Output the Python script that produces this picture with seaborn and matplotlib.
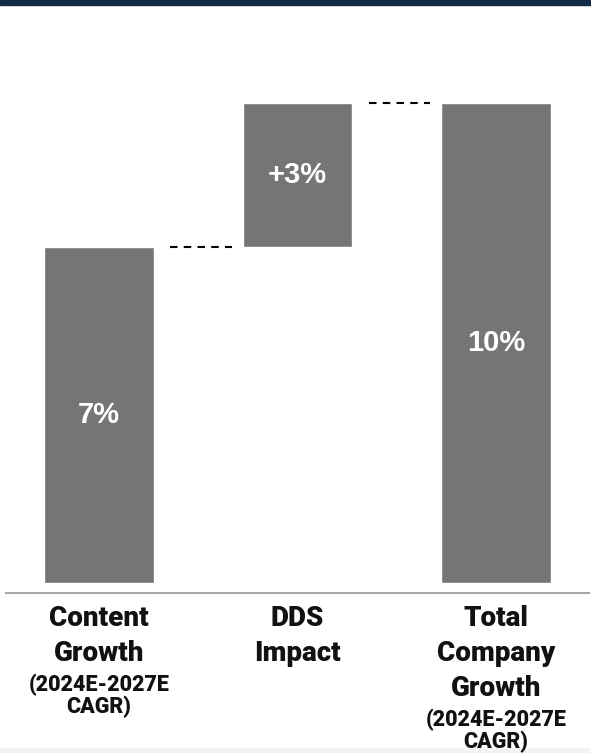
import pandas as pd
import matplotlib.pyplot as plt
import seaborn as sns
from matplotlib.patches import Rectangle


categories = ['Content Growth', 'DDS Impact', 'Total Company Growth']
bases = [0, 7, 0]
heights = [7, 3, 10]
value_labels = ['7%', '+3%', '10%']
main_lines = [['Content', 'Growth'], ['DDS', 'Impact'], ['Total', 'Company', 'Growth']]
sub_lines = [['(2024E-2027E', 'CAGR)'], [], ['(2024E-2027E', 'CAGR)']]

df = pd.DataFrame({'category': categories, 'base': bases, 'height': heights})
df['top'] = df['base'] + df['height']

sns.set_style('white')
plt.rcParams['font.family'] = ['Roboto', 'DejaVu Sans']

fig = plt.figure(figsize=(5.91, 7.53), dpi=100)
ax = fig.add_axes([6 / 591, 160 / 753, 583 / 591, 586 / 753])
ax.set_facecolor('none')

bar_color = '#757575'
sns.barplot(data=df, x='category', y='height', bottom=df['base'].values,
            color=bar_color, width=0.554, saturation=1, ax=ax)

ax.set_xlim(-0.4685, 2.4685)
ax.set_ylim(-0.215, 12.0)

# value labels inside the bars
for i, row in df.iterrows():
    ax.text(i, row['base'] + row['height'] / 2, value_labels[i],
            ha='center', va='center', color='white', fontsize=21,
            fontweight='bold', family=['Liberation Sans', 'DejaVu Sans'])

# dashed connectors between bars
for i in range(len(df) - 1):
    level = df['top'][i]
    ax.plot([i + 0.36, i + 0.67], [level, level], color='black', lw=1.5,
            linestyle=(0, (3.6, 3)))

# category labels under the axis, one line at a time
for i in range(len(categories)):
    off = 32.7
    for j, line in enumerate(main_lines[i]):
        if j > 0:
            off += 35
        ax.annotate(line, xy=(i, 0), xycoords=('data', 'axes fraction'),
                    xytext=(0, -off * 0.72), textcoords='offset points',
                    ha='center', va='baseline', fontsize=20, fontweight='heavy',
                    color='#111111', annotation_clip=False)
    for j, line in enumerate(sub_lines[i]):
        off += 30 if j == 0 else 22
        ax.annotate(line, xy=(i, 0), xycoords=('data', 'axes fraction'),
                    xytext=(0, -off * 0.72), textcoords='offset points',
                    ha='center', va='baseline', fontsize=15.5, fontweight='heavy',
                    color='#111111', annotation_clip=False)

ax.set_xticks([])
ax.set_yticks([])
ax.set_xlabel('')
ax.set_ylabel('')
sns.despine(ax=ax, left=True, top=True, right=True)
ax.spines['bottom'].set_color('#a6a6a6')
ax.spines['bottom'].set_linewidth(1.5)

# header and footer bands
fig.patches.append(Rectangle((0, 1 - 5 / 753), 1, 5 / 753, transform=fig.transFigure,
                             color='#112a46', zorder=-1))
fig.patches.append(Rectangle((0, 0), 1, 5 / 753, transform=fig.transFigure,
                             color='#f3f3f3', zorder=-1))

fig.savefig('out.png', dpi=100)
